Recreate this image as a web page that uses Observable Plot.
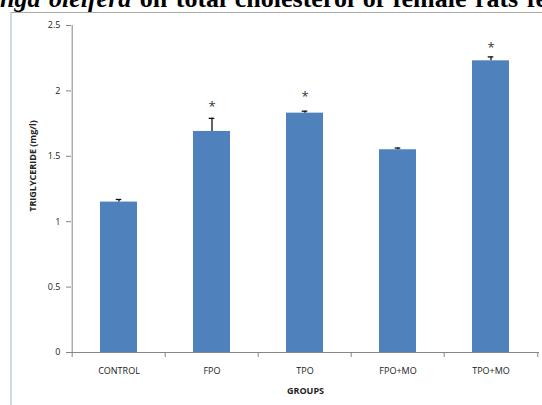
<!DOCTYPE html>
<html>
<head>
<meta charset="utf-8">
<script src="https://cdn.jsdelivr.net/npm/d3@7"></script>
<script src="https://cdn.jsdelivr.net/npm/@observablehq/plot@0.6"></script>
<style>
  body { margin: 0; background: #fff; }
  #page { position: relative; width: 542px; height: 405px; overflow: hidden; background: #fff; }
  #chart { position: absolute; left: 0; top: 0; }
  #frame { position: absolute; left: 10px; top: 12px; width: 560px; height: 420px;
           border-left: 2px solid #cddbe4; border-top: 1px solid #a9a9a9; }
  #title { position: absolute; left: 0; top: -14px; white-space: nowrap;
           font-family: "Liberation Serif", "Times New Roman", serif; font-weight: bold;
           font-size: 26px; line-height: 1; color: #000; word-spacing: 2px; }
</style>
</head>
<body>
<div id="page">
  <div id="chart"></div>
  <div id="frame"></div>
  <div id="title"><i>nga oleifera</i> on total cholesterol of female rats fe</div>
</div>
<script>
// Treatment groups and triglyceride means (mg/l) with standard errors
const groups = ["CONTROL", "FPO", "TPO", "FPO+MO", "TPO+MO"];
const means = [1.15, 1.69, 1.83, 1.55, 2.23];
const errors = [0.02, 0.10, 0.015, 0.013, 0.03];
// Height of the significance asterisk for each group (null = not significant)
const starHeights = [null, 1.90, 1.98, null, 2.35];
const yTicks = [0, 0.5, 1, 1.5, 2, 2.5];

const rows = groups.map((g, i) => ({group: g, mean: means[i], se: errors[i], star: starHeights[i]}));

const W = 542, H = 405;
const mL = 71, mR = 3, mT = 25, mB = 53;
const step = (W - mL - mR) / groups.length;   // width of one category slot
const plotH = H - mT - mB;
const axisGray = "#868686";
const font = "'Open Sans', sans-serif";

const chart = Plot.plot({
  width: W,
  height: H,
  marginLeft: mL,
  marginRight: mR,
  marginTop: mT,
  marginBottom: mB,
  style: {fontFamily: font, fontSize: "9px", background: "transparent", overflow: "visible"},
  x: {domain: groups, paddingInner: 0.6, paddingOuter: 0.3, axis: null},
  y: {domain: [0, 2.5], axis: null},
  marks: [
    Plot.barY(rows, {x: "group", y: "mean", fill: "#4f81bd"}),
    // error bars
    Plot.ruleX(rows, {x: "group", y1: "mean", y2: d => d.mean + d.se, stroke: "#111", strokeWidth: 1.3}),
    Plot.tickY(rows, {x: "group", y: d => d.mean + d.se, stroke: "#111", strokeWidth: 1.3, insetLeft: 15.7, insetRight: 15.7}),
    // significance markers
    Plot.text(rows.filter(d => d.star != null), {x: "group", y: "star", text: () => "*", fontSize: 13, fill: "#333", dy: 3}),
    // axes
    Plot.ruleY([0], {stroke: axisGray}),
    Plot.ruleX([groups[0]], {dx: -step / 2, stroke: axisGray}),
    Plot.ruleX(groups, {x: d => d, dx: -step / 2, stroke: axisGray, insetTop: plotH, insetBottom: -5}),
    Plot.ruleX([groups[groups.length - 1]], {dx: step / 2, stroke: axisGray, insetTop: plotH, insetBottom: -5}),
    Plot.axisY({ticks: yTicks, tickSize: 5, tickPadding: 6, tickFormat: d => `${d}`, label: null,
                stroke: axisGray, fill: "#222", fontSize: 9}),
    Plot.axisX({tickSize: 0, tickPadding: 15, label: null, fill: "#222", fontSize: 9}),
    Plot.text(["GROUPS"], {frameAnchor: "bottom", dy: 41, lineAnchor: "bottom", fontWeight: "bold", fontSize: 9, fill: "#222"}),
    Plot.text(["TRIGLYCERIDE (mg/l)"], {frameAnchor: "left", textAnchor: "middle", rotate: -90, dx: -38, dy: -23,
                                        fontWeight: "bold", fontSize: 9, fill: "#222"})
  ]
});
document.getElementById("chart").append(chart);
</script>
</body>
</html>
